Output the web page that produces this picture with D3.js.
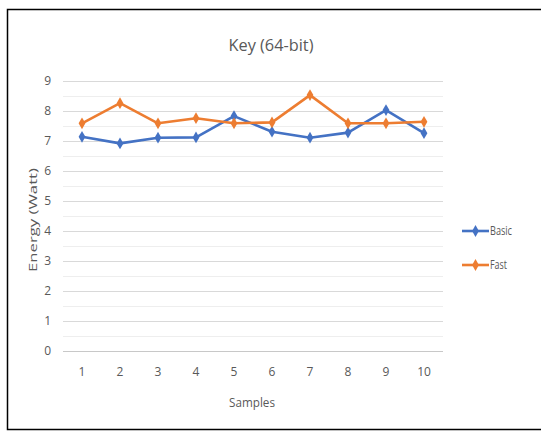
<!DOCTYPE html>
<html>
<head>
<meta charset="utf-8">
<script src="https://cdn.jsdelivr.net/npm/d3@7"></script>
<style>
  html, body { margin: 0; padding: 0; background: #fff; }
  svg { display: block; }
  text { font-family: "Open Sans", sans-serif; fill: #595959; }
</style>
</head>
<body>
<svg id="chart" width="541" height="434"></svg>
<script>
const samples = ["1", "2", "3", "4", "5", "6", "7", "8", "9", "10"];
const basic = [7.14, 6.92, 7.11, 7.12, 7.83, 7.31, 7.11, 7.28, 8.03, 7.26];
const fast = [7.59, 8.26, 7.59, 7.76, 7.59, 7.62, 8.53, 7.59, 7.59, 7.64];
const yTicks = [0, 1, 2, 3, 4, 5, 6, 7, 8, 9];
const seriesNames = ["Basic", "Fast"];
const seriesColors = ["#4472C4", "#ED7D31"];

const svg = d3.select("#chart");

// frame around the chart
svg.append("rect")
  .attr("x", 7.5).attr("y", 9.5)
  .attr("width", 600).attr("height", 420)
  .attr("fill", "none").attr("stroke", "#000").attr("stroke-width", 1.5);

const plot = { left: 63, right: 443, top: 81, bottom: 351 };

const x = d3.scaleBand().domain(samples).range([plot.left, plot.right]);
const y = d3.scaleLinear().domain([0, 9]).range([plot.bottom, plot.top]);

// minor gridlines at half units
const minor = d3.range(0.5, 9, 1);
svg.append("g").selectAll("line").data(minor).join("line")
  .attr("x1", plot.left).attr("x2", plot.right)
  .attr("y1", d => Math.round(y(d)) + 0.5).attr("y2", d => Math.round(y(d)) + 0.5)
  .attr("stroke", "#eeeeee").attr("stroke-width", 1);

// major gridlines
const yAxis = d3.axisLeft(y).tickValues(yTicks).tickSize(-(plot.right - plot.left)).tickPadding(12);
const gy = svg.append("g").attr("transform", `translate(${plot.left},0)`).call(yAxis);
gy.select(".domain").remove();
gy.selectAll(".tick line").attr("stroke", d => d === 0 ? "#c8c8c8" : "#d9d9d9").attr("stroke-width", 1.2);
gy.selectAll(".tick text").attr("font-size", 12).style("fill", "#595959");

// x axis labels
const xAxis = d3.axisBottom(x).tickSize(0).tickPadding(16);
const gx = svg.append("g").attr("transform", `translate(0,${plot.bottom})`).call(xAxis);
gx.select(".domain").remove();
gx.selectAll(".tick text").attr("font-size", 12).style("fill", "#595959");

// series lines and markers
const line = d3.line()
  .x((d, i) => x(samples[i]) + x.bandwidth() / 2)
  .y(d => y(d));

[basic, fast].forEach((vals, si) => {
  const g = svg.append("g");
  g.append("path").datum(vals)
    .attr("d", line)
    .attr("fill", "none")
    .attr("stroke", seriesColors[si])
    .attr("stroke-width", 2.6)
    .attr("stroke-linejoin", "round");
  g.selectAll("path.marker").data(vals).join("path")
    .attr("class", "marker")
    .attr("d", d3.symbol(d3.symbolDiamond, 40))
    .attr("transform", (d, i) => `translate(${x(samples[i]) + x.bandwidth() / 2},${y(d)})`)
    .attr("fill", seriesColors[si]);
});

// title
svg.append("text")
  .attr("x", 271).attr("y", 51)
  .attr("text-anchor", "middle")
  .attr("font-size", 17)
  .attr("textLength", 85).attr("lengthAdjust", "spacingAndGlyphs")
  .text("Key (64-bit)");

// axis titles
svg.append("text")
  .attr("transform", "translate(37,220) rotate(-90)")
  .attr("text-anchor", "middle")
  .attr("font-size", 11)
  .attr("textLength", 104).attr("lengthAdjust", "spacingAndGlyphs")
  .text("Energy (Watt)");

svg.append("text")
  .attr("x", 252).attr("y", 407)
  .attr("text-anchor", "middle")
  .attr("font-size", 13)
  .attr("textLength", 46).attr("lengthAdjust", "spacingAndGlyphs")
  .text("Samples");

// legend
const legend = svg.append("g");
seriesNames.forEach((name, i) => {
  const ly = 231 + i * 34;
  legend.append("line")
    .attr("x1", 462).attr("x2", 489)
    .attr("y1", ly).attr("y2", ly)
    .attr("stroke", seriesColors[i]).attr("stroke-width", 2.6);
  legend.append("path")
    .attr("d", d3.symbol(d3.symbolDiamond, 40))
    .attr("transform", `translate(475.5,${ly})`)
    .attr("fill", seriesColors[i]);
  legend.append("text")
    .attr("x", 490).attr("y", ly + 4)
    .attr("font-size", 12)
    .attr("textLength", name === "Basic" ? 22 : 17).attr("lengthAdjust", "spacingAndGlyphs")
    .text(name);
});
</script>
</body>
</html>
